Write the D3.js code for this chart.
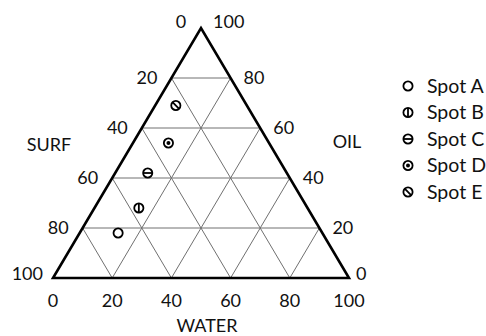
<!DOCTYPE html>
<html>
  <head>
    <meta charset="utf-8">
    <title>Ternary plot</title>
    <script src="https://d3js.org/d3.v7.min.js"></script>
    <style>
      body { margin: 0; background: white; }
      svg { font-family: Lato, "Open Sans", sans-serif; font-size: 18px; fill: #111; }
      .grid { stroke: #707070; stroke-width: 1; fill: none; }
      .frame { stroke: black; stroke-width: 2.6; fill: none; stroke-linejoin: miter; }
      .mark { stroke: black; stroke-width: 1.8; fill: white; }
      .legendText { font-size: 19.5px; }
    </style>
  </head>
  <body>
    <svg id="chart" width="486" height="336"></svg>
    <script>
      // data: water, oil, surf (%)
      var spots = ["Spot A", "Spot B", "Spot C", "Spot D", "Spot E"];
      var water = [13, 15, 11, 12, 7];
      var oil = [18, 28, 42, 54, 69];
      var surf = [69, 57, 47, 34, 24];
      var symbols = ["open", "vline", "hline", "dot", "slash"];
      var ticks = [0, 20, 40, 60, 80, 100];
      var axisNames = ["SURF", "OIL", "WATER"];

      var svg = d3.select("#chart");
      var x = d3.scaleLinear().domain([0, 100]).range([53, 349]);
      var y = d3.scaleLinear().domain([0, 100]).range([278, 28]);
      // ternary -> screen
      function pt(w, o) { return [x(w + o / 2), y(o)]; }

      // grid lines
      var inner = ticks.slice(1, -1);
      var gridLines = [];
      inner.forEach(function(v) {
        gridLines.push([pt(0, v), pt(100 - v, v)]);   // oil constant
        gridLines.push([pt(v, 0), pt(v, 100 - v)]);   // water constant
        gridLines.push([pt(100 - v, 0), pt(0, 100 - v)]); // surf constant
      });
      svg.append("g").selectAll("line")
          .data(gridLines)
        .enter().append("line")
          .attr("class", "grid")
          .attr("x1", function(d) { return d[0][0]; })
          .attr("y1", function(d) { return d[0][1]; })
          .attr("x2", function(d) { return d[1][0]; })
          .attr("y2", function(d) { return d[1][1]; });

      svg.append("path")
        .attr("class", "frame")
        .attr("d", d3.line()([pt(0, 0), pt(100, 0), pt(0, 100)]) + "Z");

      // tick labels
      var labels = svg.append("g");
      labels.selectAll(".bottom")
          .data(ticks)
        .enter().append("text")
          .attr("x", function(d) { return pt(d, 0)[0]; })
          .attr("y", y(0) + 23)
          .attr("dy", "0.35em")
          .attr("text-anchor", "middle")
          .text(function(d) { return d; });
      // left side: surf, measured along the left edge
      labels.selectAll(".left")
          .data(ticks.slice(1))
        .enter().append("text")
          .attr("x", function(d) { return pt(0, 100 - d)[0] - (d == 100 ? 10 : 14); })
          .attr("y", function(d) { return pt(0, 100 - d)[1] - (d == 100 ? 4 : 0); })
          .attr("dy", "0.35em")
          .attr("text-anchor", "end")
          .text(function(d) { return d; });
      // right side: oil
      labels.selectAll(".right")
          .data(ticks.slice(0, -1))
        .enter().append("text")
          .attr("x", function(d) { return pt(100 - d, d)[0] + (d == 0 ? 7 : 13); })
          .attr("y", function(d) { return pt(100 - d, d)[1] - (d == 0 ? 4 : 0); })
          .attr("dy", "0.35em")
          .text(function(d) { return d; });
      // apex
      labels.append("text")
        .attr("x", pt(0, 100)[0] - 20).attr("y", pt(0, 100)[1] - 6)
        .attr("dy", "0.35em").attr("text-anchor", "middle").text(ticks[0]);
      labels.append("text")
        .attr("x", pt(0, 100)[0] + 12).attr("y", pt(0, 100)[1] - 6)
        .attr("dy", "0.35em").text(ticks[ticks.length - 1]);

      // axis names
      svg.append("text").attr("x", 49).attr("y", 145).attr("dy", "0.35em")
        .attr("text-anchor", "middle").text(axisNames[0]);
      svg.append("text").attr("x", 347).attr("y", 142).attr("dy", "0.35em")
        .attr("text-anchor", "middle").text(axisNames[1]);
      svg.append("text").attr("x", 207).attr("y", 326).attr("dy", "0.35em")
        .attr("text-anchor", "middle").text(axisNames[2]);

      // marker symbols
      var r = 4.6;
      function drawMarker(g, kind) {
        g.append("circle").attr("class", "mark").attr("r", r);
        var k = r * 0.72;
        if (kind == "vline") g.append("line").attr("class", "mark").attr("y1", -r).attr("y2", r);
        if (kind == "hline") g.append("line").attr("class", "mark").attr("x1", -r).attr("x2", r);
        if (kind == "slash") g.append("line").attr("class", "mark")
          .attr("x1", -k).attr("y1", -k).attr("x2", k).attr("y2", k);
        if (kind == "dot") g.append("circle").attr("r", 2).style("fill", "black");
      }

      var points = svg.append("g").selectAll("g")
          .data(d3.range(spots.length))
        .enter().append("g")
          .attr("transform", function(i) { var p = pt(water[i], oil[i]); return "translate(" + p[0] + "," + p[1] + ")"; })
          .each(function(i) { drawMarker(d3.select(this), symbols[i]); });

      // legend
      var ly = d3.scalePoint().domain(spots).range([86, 192]);
      var legend = svg.append("g").selectAll("g")
          .data(d3.range(spots.length))
        .enter().append("g")
          .attr("transform", function(i) { return "translate(408," + ly(spots[i]) + ")"; });
      legend.each(function(i) { drawMarker(d3.select(this), symbols[i]); });
      legend.append("text")
        .attr("class", "legendText")
        .attr("x", 19)
        .attr("dy", "0.35em")
        .text(function(i) { return spots[i]; });
    </script>
  </body>
</html>
